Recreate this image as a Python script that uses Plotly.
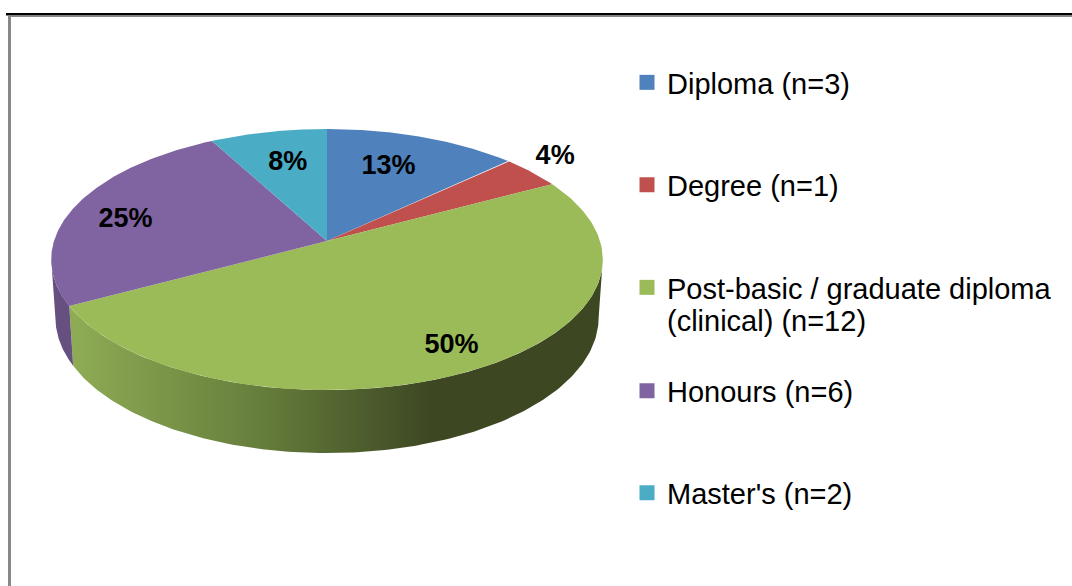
import numpy as np
import plotly.graph_objects as go

# Data
categories = ["Diploma (n=3)", "Degree (n=1)",
              "Post-basic / graduate diploma<br>(clinical) (n=12)",
              "Honours (n=6)", "Master's (n=2)"]
counts = [3, 1, 12, 6, 2]
colors = ["#4F81BD", "#C0504D", "#9BBB59", "#8064A2", "#4BACC6"]

# Style / geometry of the tilted pie, in pixels of the page
CX, CY = 327, 241
A, B, K = 273, 127.9, 0.142
BOTTOM_SCALE = 0.985
LABEL_R = [0.66, 1.17, 0.82, 0.79, 0.70]
LABEL_NUDGE = [(-2, -2), (-2, -1), (0, 4), (1, 5), (6, 1)]
LEGEND_Y = [57, 159.5, 262, 365.5, 467.5]
LEGEND_X = 627
LEGEND_FONT = 29
LABEL_FONT = 27
FONT = "Liberation Sans"


def project(theta_deg, r=1.0, bottom=False, skew=True):
    th = np.asarray(theta_deg, dtype=float)
    if skew:  # slight turn of the rim seen in the picture; top boundary stays vertical
        th = th + 1.7 * np.minimum(1, 2 * np.abs(np.sin(np.radians(th))))
    t = np.radians(th)
    X, Y = r * np.sin(t), r * np.cos(t)
    d = 1 + K * Y
    x = CX + (BOTTOM_SCALE if bottom else 1) * A * X / d
    y = CY - B * Y / d
    if bottom:
        y = y + 57 - 6 * Y
    return x, y


total = sum(counts)
edges = np.concatenate([[0], np.cumsum(counts)]) / total * 360
fig = go.Figure()

# side walls first, the top faces then cover what is hidden
grid = np.linspace(0, 360, 1441)
grid_x = project(grid)[0]
theta_right, theta_left = grid[np.argmax(grid_x)], grid[np.argmin(grid_x)]

walls = [
    (theta_right, edges[3], dict(fillgradient=dict(
        type="horizontal", start=70, stop=600,
        colorscale=[[0, "#8FAC55"], [0.35, "#677F3C"], [0.68, "#3D4823"], [1, "#3D4823"]]))),
    (edges[3], theta_left, dict(fillcolor="#65507F")),
]
for start, stop, extra in walls:
    th = np.linspace(start, stop, 160)
    xt, yt = project(th)
    xb, yb = project(th[::-1], bottom=True)
    fig.add_trace(go.Scatter(x=np.r_[xt, xb], y=np.r_[yt, yb], mode="lines",
                             line=dict(width=0), fill="toself", showlegend=False,
                             hoverinfo="skip", **extra))

for i, c in enumerate(colors):
    th = np.linspace(edges[i], edges[i + 1], 160)
    x, y = project(th)
    fig.add_trace(go.Scatter(x=np.r_[CX, x, CX], y=np.r_[CY, y, CY], mode="lines",
                             line=dict(width=0), fill="toself", fillcolor=c,
                             showlegend=False, name=categories[i], hoverinfo="name"))

# percentage labels
mids = (edges[:-1] + edges[1:]) / 2
pts = [project(m, r, skew=False) for m, r in zip(mids, LABEL_R)]
lx = [float(p[0]) + n[0] for p, n in zip(pts, LABEL_NUDGE)]
ly = [float(p[1]) + n[1] for p, n in zip(pts, LABEL_NUDGE)]
fig.add_trace(go.Scatter(x=lx, y=ly, mode="text",
                         text=[f"{int(v / total * 100 + 0.5)}%" for v in counts],
                         textfont=dict(family=FONT, size=LABEL_FONT, color="black", weight="bold"),
                         showlegend=False, hoverinfo="skip"))

# legend entries: one small legend each, so their spacing follows the picture
legends = {}
annotations = []
for i, (name, c) in enumerate(zip(categories, colors)):
    key = "legend" if i == 0 else f"legend{i + 1}"
    lines = name.split("<br>")
    fig.add_trace(go.Scatter(x=[None], y=[None], mode="markers", name=lines[0],
                             marker=dict(symbol="square", size=15, color=c), legend=key))
    legends[key] = dict(x=LEGEND_X / 1072, y=1 - LEGEND_Y[i] / 586,
                        font=dict(family=FONT, size=LEGEND_FONT, color="black"),
                        bgcolor="rgba(0,0,0,0)", xanchor="left", yanchor="top",
                        itemclick=False, itemdoubleclick=False)
    for extra_line in lines[1:]:
        annotations.append(dict(x=665, y=321, xref="x", yref="y", text=extra_line,
                                xanchor="left", yanchor="middle", showarrow=False,
                                font=dict(family=FONT, size=LEGEND_FONT, color="black")))

fig.update_layout(
    width=1072, height=586, margin=dict(l=0, r=0, t=0, b=0),
    paper_bgcolor="white", plot_bgcolor="white", showlegend=True,
    xaxis=dict(range=[0, 1072], visible=False, fixedrange=True),
    yaxis=dict(range=[586, 0], visible=False, fixedrange=True),
    annotations=annotations,
    shapes=[
        dict(type="rect", xref="x", yref="y", x0=6, x1=1072, y0=13, y1=15.5,
             fillcolor="#000000", line_width=0),
        dict(type="rect", xref="x", yref="y", x0=8, x1=1072, y0=15.5, y1=17,
             fillcolor="#888888", line_width=0),
        dict(type="rect", xref="x", yref="y", x0=8, x1=11, y0=16, y1=586,
             fillcolor="#888888", line_width=0),
    ],
    **legends,
)

fig.write_html("out.html", config=dict(displayModeBar=False),
               post_script="document.body.style.margin='0';document.body.style.overflow='hidden';")
